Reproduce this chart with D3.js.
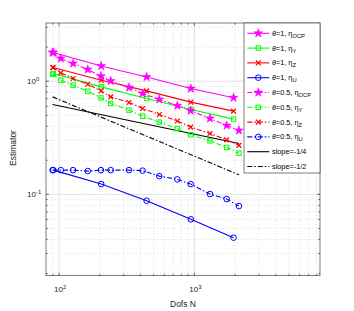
<!DOCTYPE html>
<html>
<head>
<meta charset="utf-8">
<script src="https://cdn.jsdelivr.net/npm/d3@7"></script>
<style>
  body { margin: 0; background: #fff; }
  svg { font-family: "Liberation Sans", Arial, sans-serif; }
  .grid-major { stroke: #e3e3e3; stroke-width: 1; }
  .grid-minor { stroke: #d4d4d4; stroke-width: 0.7; stroke-dasharray: 1,2; }
</style>
</head>
<body>
<svg id="chart" width="354" height="311"></svg>
<script>
// dofs for the theta=1 runs and the theta=0.5 runs
const dofsTheta1 = [90.7, 205, 444, 942, 1950];
const dofsTheta05 = [89.6, 103, 127, 163, 204, 241, 329, 415, 551, 749, 940, 1306, 1735, 2137];

// estimator values, theta = 1
const ocp1 = [1.792, 1.365, 1.091, 0.862, 0.715];
const y1 = [1.170, 0.891, 0.703, 0.563, 0.462];
const z1 = [1.321, 1.020, 0.821, 0.653, 0.544];
const u1 = [0.1638, 0.1233, 0.0878, 0.0602, 0.0414];

// estimator values, theta = 0.5
const ocp05 = [1.792, 1.586, 1.433, 1.269, 1.107, 1.006, 0.880, 0.779, 0.691, 0.608, 0.549, 0.469, 0.406, 0.367];
const y05 = [1.153, 1.020, 0.922, 0.816, 0.712, 0.636, 0.555, 0.491, 0.435, 0.382, 0.336, 0.297, 0.260, 0.231];
const z05 = [1.321, 1.184, 1.056, 0.941, 0.821, 0.727, 0.649, 0.574, 0.508, 0.445, 0.393, 0.345, 0.303, 0.271];
const u05 = [0.1638, 0.1638, 0.1638, 0.1606, 0.1638, 0.1638, 0.1638, 0.162, 0.145, 0.1356, 0.1233, 0.1006, 0.0909, 0.0788];

// reference slope lines (end points)
const slopeDofs = [89.6, 2137];
const slopeQuarter = [0.623, 0.282];
const slopeHalf = [0.727, 0.149];

const xTicks = [100, 1000];
const yTicks = [0.1, 1];

const series = [
  { name: "1", sub: "OCP", x: dofsTheta1, y: ocp1, color: "#ff00ff", marker: "star", dash: null },
  { name: "1", sub: "Y", x: dofsTheta1, y: y1, color: "#00ff00", marker: "square", dash: null },
  { name: "1", sub: "Z", x: dofsTheta1, y: z1, color: "#ff0000", marker: "x", dash: null },
  { name: "1", sub: "U", x: dofsTheta1, y: u1, color: "#0000ff", marker: "circle", dash: null },
  { name: "0.5", sub: "OCP", x: dofsTheta05, y: ocp05, color: "#ff00ff", marker: "star", dash: "5,2,1.5,2" },
  { name: "0.5", sub: "Y", x: dofsTheta05, y: y05, color: "#00ff00", marker: "square", dash: "5,2,1.5,2" },
  { name: "0.5", sub: "Z", x: dofsTheta05, y: z05, color: "#ff0000", marker: "x", dash: "5,2,1.5,2" },
  { name: "0.5", sub: "U", x: dofsTheta05, y: u05, color: "#0000ff", marker: "circle", dash: "5,2,1.5,2" }
];

const svg = d3.select("#chart");
const pLeft = 46, pRight = 320, pTop = 23, pBottom = 275.7;

const xScale = d3.scaleLog().domain([80.1, 8494]).range([pLeft, pRight]);
const yScale = d3.scaleLog().domain([0.0191, 3.27]).range([pBottom, pTop]);

// grid lines
const xMinor = [], yMinor = [];
[10, 100, 1000].forEach(d => { for (let k = 2; k <= 9; k++) xMinor.push(d * k); });
[0.01, 0.1, 1].forEach(d => { for (let k = 2; k <= 9; k++) yMinor.push(d * k); });
const xm = xMinor.filter(v => v > 80.1 && v < 8494);
const ym = yMinor.filter(v => v > 0.0191 && v < 3.27);

const grid = svg.append("g");
grid.selectAll(".gx").data(xm).join("line").attr("class", "grid-minor")
  .attr("x1", d => xScale(d)).attr("x2", d => xScale(d)).attr("y1", pTop).attr("y2", pBottom);
grid.selectAll(".gy").data(ym).join("line").attr("class", "grid-minor")
  .attr("y1", d => yScale(d)).attr("y2", d => yScale(d)).attr("x1", pLeft).attr("x2", pRight);
grid.selectAll(".gX").data(xTicks).join("line").attr("class", "grid-major")
  .attr("x1", d => xScale(d)).attr("x2", d => xScale(d)).attr("y1", pTop).attr("y2", pBottom);
grid.selectAll(".gY").data(yTicks).join("line").attr("class", "grid-major")
  .attr("y1", d => yScale(d)).attr("y2", d => yScale(d)).attr("x1", pLeft).attr("x2", pRight);

// ticks (inward, all four sides)
const tk = svg.append("g").attr("stroke", "#262626").attr("stroke-width", 0.6);
xm.concat(xTicks).forEach(v => {
  const L = xTicks.includes(v) ? 3 : 1.8;
  tk.append("line").attr("x1", xScale(v)).attr("x2", xScale(v)).attr("y1", pBottom).attr("y2", pBottom - L);
  tk.append("line").attr("x1", xScale(v)).attr("x2", xScale(v)).attr("y1", pTop).attr("y2", pTop + L);
});
ym.concat(yTicks).forEach(v => {
  const L = yTicks.includes(v) ? 3 : 1.8;
  tk.append("line").attr("y1", yScale(v)).attr("y2", yScale(v)).attr("x1", pLeft).attr("x2", pLeft + L);
  tk.append("line").attr("y1", yScale(v)).attr("y2", yScale(v)).attr("x1", pRight).attr("x2", pRight - L);
});

// slope reference lines
const line = d3.line().x(d => xScale(d[0])).y(d => yScale(d[1]));
svg.append("path").datum(d3.zip(slopeDofs, slopeQuarter)).attr("d", line)
  .attr("fill", "none").attr("stroke", "#000").attr("stroke-width", 1.1);
svg.append("path").datum(d3.zip(slopeDofs, slopeHalf)).attr("d", line)
  .attr("fill", "none").attr("stroke", "#000").attr("stroke-width", 1.1).attr("stroke-dasharray", "5,2,1.5,2");

function drawMarker(g, type, color, cx, cy) {
  if (type === "star") {
    g.append("path").attr("d", d3.symbol(d3.symbolStar, 24)()).attr("transform", `translate(${cx},${cy})`)
      .attr("fill", color).attr("stroke", color).attr("stroke-width", 0.6);
  } else if (type === "square") {
    g.append("rect").attr("x", cx - 2.2).attr("y", cy - 2.2).attr("width", 4.4).attr("height", 4.4)
      .attr("fill", "none").attr("stroke", color).attr("stroke-width", 1);
  } else if (type === "x") {
    g.append("path").attr("d", `M${cx - 2.4},${cy - 2.4}L${cx + 2.4},${cy + 2.4}M${cx - 2.4},${cy + 2.4}L${cx + 2.4},${cy - 2.4}`)
      .attr("stroke", color).attr("stroke-width", 1.2);
  } else {
    g.append("circle").attr("cx", cx).attr("cy", cy).attr("r", 2.8)
      .attr("fill", "none").attr("stroke", color).attr("stroke-width", 1);
  }
}

// data series
series.forEach(s => {
  const pts = d3.zip(s.x, s.y);
  const g = svg.append("g");
  g.append("path").datum(pts).attr("d", line).attr("fill", "none")
    .attr("stroke", s.color).attr("stroke-width", 1.1).attr("stroke-dasharray", s.dash);
  pts.forEach(p => drawMarker(g, s.marker, s.color, xScale(p[0]), yScale(p[1])));
});

// axes box
svg.append("rect").attr("x", pLeft).attr("y", pTop).attr("width", pRight - pLeft).attr("height", pBottom - pTop)
  .attr("fill", "none").attr("stroke", "#262626").attr("stroke-width", 0.6);

// tick labels
xTicks.forEach(v => {
  const t = svg.append("text").attr("x", xScale(v) - 5).attr("y", 292).attr("font-size", 8).attr("fill", "#262626");
  t.append("tspan").text("10");
  t.append("tspan").attr("dy", -3.5).attr("font-size", 6).text(Math.round(Math.log10(v)));
});
yTicks.forEach(v => {
  const t = svg.append("text").attr("x", 27).attr("y", yScale(v) + 3).attr("font-size", 8).attr("fill", "#262626");
  t.append("tspan").text("10");
  t.append("tspan").attr("dy", -3.5).attr("font-size", 6).text(Math.round(Math.log10(v)));
});

// axis labels
svg.append("text").attr("x", 183).attr("y", 307).attr("text-anchor", "middle")
  .attr("font-size", 8.5).attr("fill", "#262626").text("Dofs N");
svg.append("text").attr("transform", "translate(16,148) rotate(-90)").attr("text-anchor", "middle")
  .attr("font-size", 8.5).attr("fill", "#262626").text("Estimator");

// legend
const lg = svg.append("g");
lg.append("rect").attr("x", 244).attr("y", pTop).attr("width", pRight - 244).attr("height", 173 - pTop)
  .attr("fill", "#fff").attr("stroke", "#262626").attr("stroke-width", 0.6);
const entries = series.map(s => ({ kind: "series", s }))
  .concat([{ kind: "slope", label: "slope=-1/4", dash: null }, { kind: "slope", label: "slope=-1/2", dash: "5,2,1.5,2" }]);
entries.forEach((e, i) => {
  const y = 33.3 + i * 14.8;
  if (e.kind === "series") {
    lg.append("line").attr("x1", 247.3).attr("x2", 269.3).attr("y1", y).attr("y2", y)
      .attr("stroke", e.s.color).attr("stroke-width", 1.1).attr("stroke-dasharray", e.s.dash);
    drawMarker(lg, e.s.marker, e.s.color, 258.3, y);
    const t = lg.append("text").attr("x", 272).attr("y", y + 2.5).attr("font-size", 7.3).attr("fill", "#000");
    t.append("tspan").attr("font-style", "italic").text("θ");
    t.append("tspan").text("=" + e.s.name + ", ");
    t.append("tspan").text("η");
    t.append("tspan").attr("dy", 2).attr("font-size", 5.8).text(e.s.sub);
  } else {
    lg.append("line").attr("x1", 247.3).attr("x2", 269.3).attr("y1", y).attr("y2", y)
      .attr("stroke", "#000").attr("stroke-width", 1.1).attr("stroke-dasharray", e.dash);
    lg.append("text").attr("x", 272).attr("y", y + 2.5).attr("font-size", 7.3).attr("fill", "#000").text(e.label);
  }
});
</script>
</body>
</html>
